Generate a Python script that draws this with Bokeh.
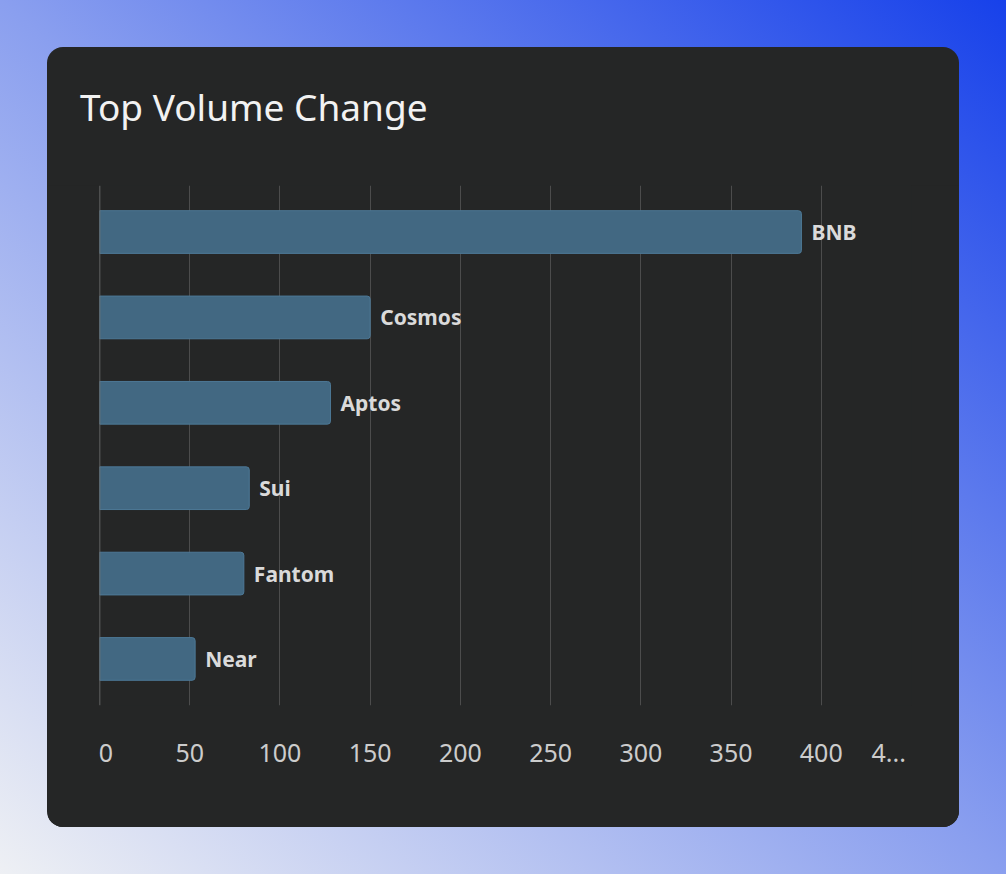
from bokeh.core.properties import value
from bokeh.embed import file_html
from bokeh.layouts import column
from bokeh.models import (ColumnDataSource, Div, FactorRange, FixedTicker,
                          GlobalInlineStyleSheet, Range1d, Span)
from bokeh.plotting import figure
from bokeh.resources import INLINE

# datos
names = ["BNB", "Cosmos", "Aptos", "Sui", "Fantom", "Near"]
volume_change = [389, 150, 128, 83, 80, 53]
tick_values = [0, 50, 100, 150, 200, 250, 300, 350, 400, 450]
# la primera y la ultima etiqueta quedan dentro del area, como en el original
tick_overrides = {0: "\u00a0\u00a00", 450: "4..." + "\u00a0" * 7}
title_text = "Top Volume Change"

FONT = "Noto Sans"
CARD = "#252626"

source = ColumnDataSource(dict(name=names, change=volume_change))

page_css = GlobalInlineStyleSheet(css="""
html { min-height: 100%;
       background: linear-gradient(to top right, #eef0f4 0%, #8a9fef 50%, #1741ea 100%); }
body { background: transparent; }
""")

# titulo de la tarjeta
title = Div(
    text=f'<div style="padding: 34px 0 0 33px; font-family: \'{FONT}\'; '
         f'font-size: 37px; line-height: normal; color: #f2f2f2; '
         f'white-space: nowrap">{title_text}</div>',
    width=912, height=138, margin=0,
)

p = figure(
    y_range=FactorRange(factors=names[::-1], range_padding=0.045,
                        range_padding_units="absolute"),
    x_range=Range1d(0, 450),
    width=912, height=642, margin=0,
    min_border_left=52, min_border_right=48,
    min_border_top=0, min_border_bottom=122,
    toolbar_location=None, output_backend="svg",
)

p.hbar(y="name", right="change", left=0, height=0.5, source=source,
       fill_color="#426882", line_color="#4d7896", line_width=1,
       border_radius=(0, 3, 3, 0))

p.text(x="change", y="name", text="name", source=source, x_offset=10,
       text_baseline="middle", text_align="left",
       text_font=value(FONT), text_font_style="bold",
       text_font_size="21px", text_color="#dadada")

# linea base en cero
p.add_layout(Span(location=0, dimension="height", line_color="#767676",
                  line_width=1.5))

p.background_fill_color = CARD
p.border_fill_color = CARD
p.outline_line_color = None

p.xaxis.ticker = FixedTicker(ticks=tick_values)
p.xaxis.major_label_overrides = tick_overrides
p.xaxis.axis_line_color = None
p.xaxis.major_tick_line_color = None
p.xaxis.minor_tick_line_color = None
p.xaxis.major_label_standoff = 23
p.xaxis.major_label_text_font = FONT
p.xaxis.major_label_text_font_size = "25px"
p.xaxis.major_label_text_color = "#cccccc"

p.yaxis.visible = False

p.xgrid.grid_line_color = "#4c4c4c"
p.xgrid.grid_line_width = 1
p.ygrid.grid_line_color = None

card = column(
    title, p, width=912, height=780, spacing=0,
    margin=(47, 0, 0, 47),
    styles={"border-radius": "16px", "overflow": "hidden",
            "background-color": CARD},
    stylesheets=[page_css],
)

open("out.html", "w").write(file_html(card, INLINE))
